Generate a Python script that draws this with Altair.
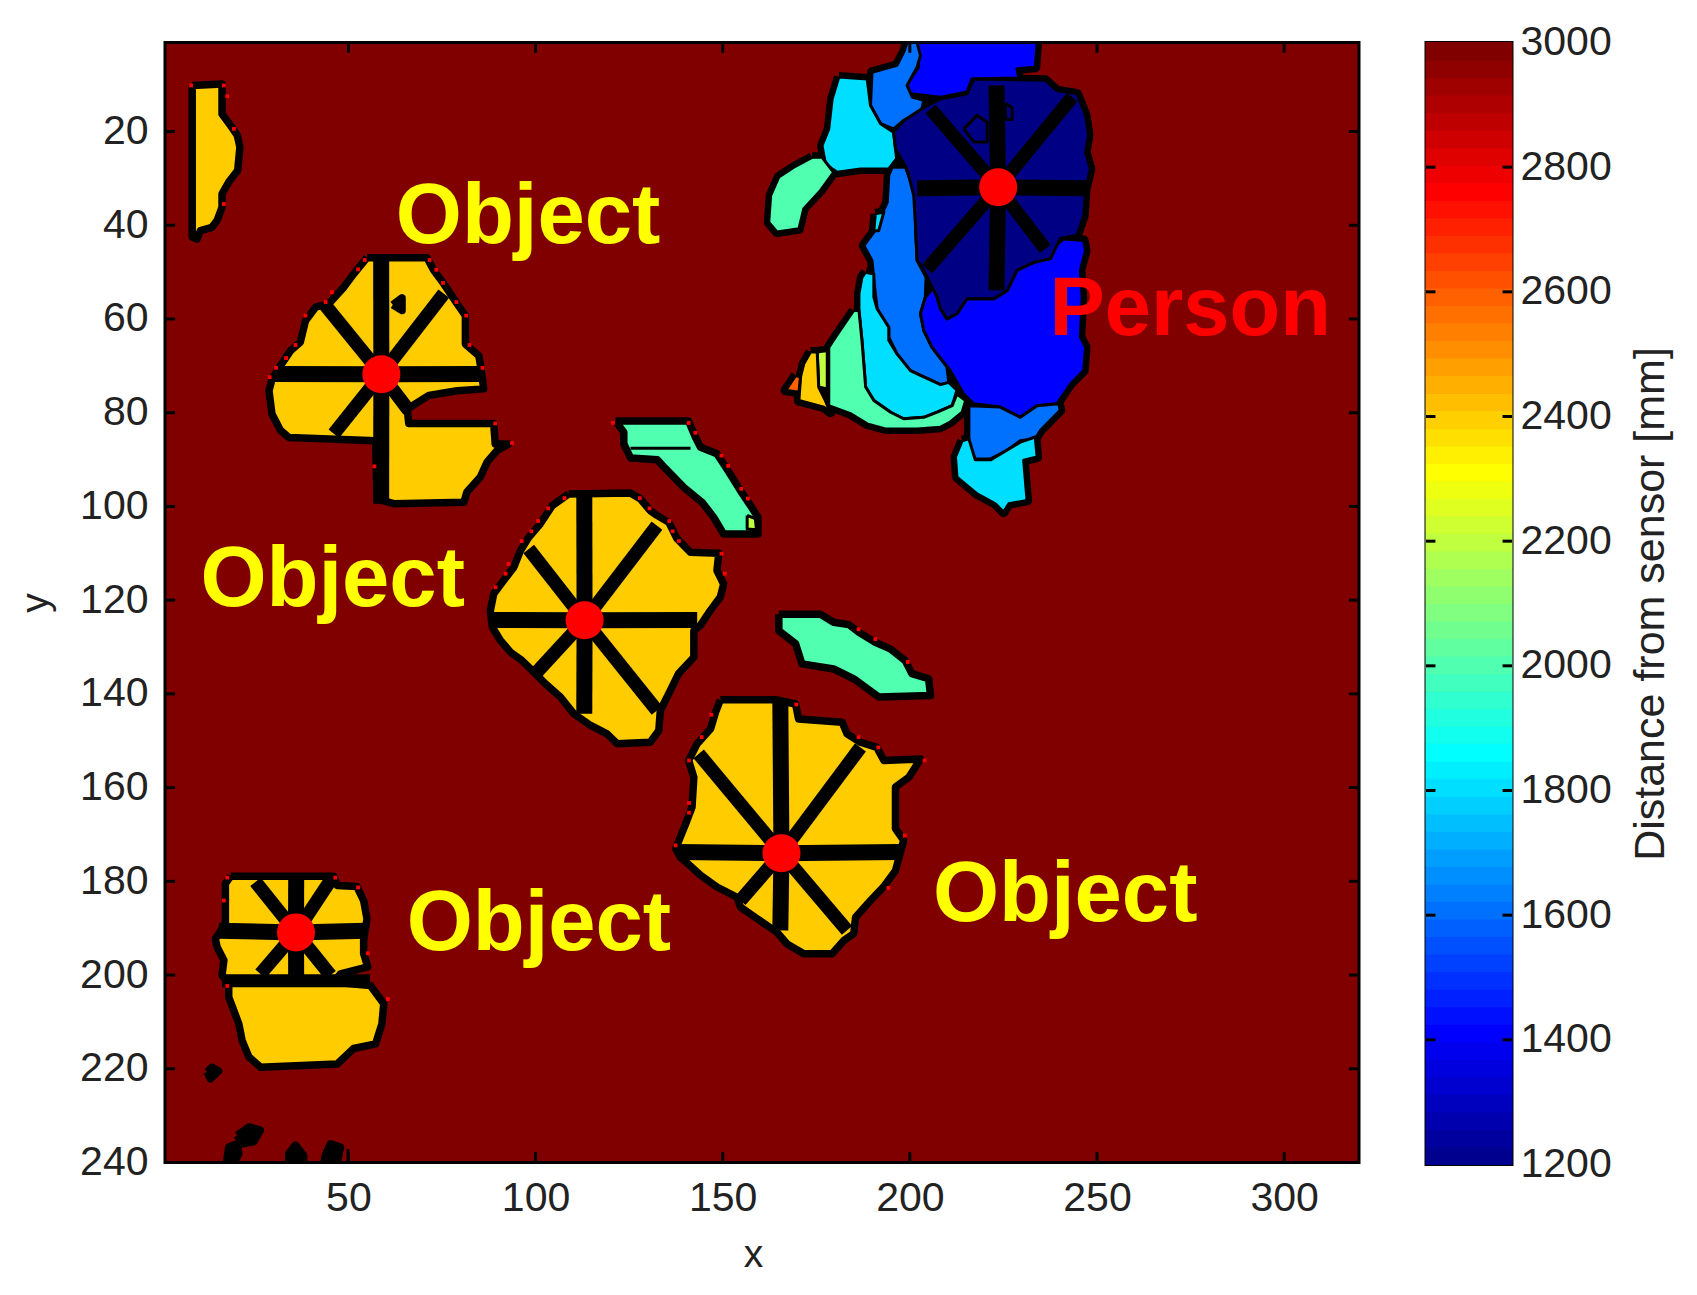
import altair as alt
import pandas as pd

FONT = "Liberation Sans"
BACK = "#800000"
ORANGE = "#ffcc00"
AQUA = "#50ffaf"
CYAN = "#00dfff"
AZURE = "#0070ff"
BLUE = "#0000ff"
NAVY = "#000085"
LIME = "#bfff40"
FLAME = "#ff6000"

X_READ = 3.727 / 3.743
Y_READ = 4.668 / 4.686

sliver = [(8.3,10.2),(16.3,9.9),(16.3,12.7),(16.3,16.3),(18.6,18.8),(20.4,20.9),(21.1,23.4),(20.5,28.4),(18.1,30.9),(16.3,33.4),(16.3,36.3),(15,39.1),(13.6,40.6),(10.5,41.3),(9.6,43.1),(8.3,42.7)]
obj_b = [(55.2,47.1),(71.3,47.1),(73.1,49.8),(75.8,52.7),(79.4,57),(81.6,59.5),(81.6,65.6),(85.2,68.1),(85.8,70.9),(86.5,75.2),(79.4,75.6),(71.8,76.6),(66,79.5),(66.4,82.6),(89.2,82.6),(89.6,87),(93.2,87),(90.1,88.4),(87.4,90.9),(85.6,94.1),(82,97.3),(81.2,99.5),(62.4,99.8),(57.9,98.8),(57.5,86.3),(34.2,85.6),(32,84.1),(29.7,80.6),(28.9,75.6),(29.7,73.1),(32,70.2),(34.7,67),(37.3,65.2),(38.7,60.6),(41.4,57.7),(44.9,57),(49,53.4),(51.6,50.6)]
obj_c = [(109.3,97.7),(125.9,97.5),(128.6,98.8),(131.2,101.3),(133,102.3),(136.2,103.8),(138.4,107.3),(142,110.2),(149.6,110.4),(149.1,114.1),(150.9,117),(150,119.8),(147.3,122.7),(144.6,125.9),(142.9,127),(142.9,132.7),(138.8,136.2),(136.6,139.8),(133.9,144.1),(133.5,148.4),(131.2,150.9),(122.3,151.2),(119.6,149.1),(115.2,147.3),(110.7,144.8),(107.1,141.2),(103.1,138.4),(100,135.9),(96.8,133.4),(93.7,131.6),(91,129.1),(88.8,126.2),(88.3,122.7),(89.2,119.1),(91.9,116.2),(94.6,113.4),(96.4,109.8),(98.6,107),(101.7,104.1),(104.9,100.2)]
obj_d = [(150,141.8),(164.8,141.8),(170.2,142.7),(171,145.9),(182.7,146.6),(184,149.1),(187.6,150.9),(192,152),(193.9,154.8),(203.7,154.5),(200.6,158.4),(197,160.5),(197,169.4),(199.2,171.9),(197,178.4),(193.8,181.9),(190.3,184.8),(186.3,188.4),(185.8,191.9),(183.1,193.4),(180,196.2),(172.4,196.2),(167.9,194.1),(165.2,191.6),(159.9,188.7),(155.4,186.2),(154.5,184.1),(149.1,181.9),(144.7,179.4),(139.3,175.5),(138,173.7),(140.7,168.4),(142.4,164.8),(142.9,158.4),(141.5,154.8),(143.8,151.2),(147.4,148),(148.7,144.5)]
obj_e = [(18.6,179.6),(46.3,179.6),(47.2,181.6),(52.5,181.8),(54.3,184.8),(55.2,188.7),(54.3,193.3),(54.3,196.2),(55.4,199),(48.1,200.5),(46.3,202.3),(56.1,203),(59.7,206.9),(59.2,211.2),(57.5,215.5),(51.6,216.5),(47.2,219.8),(26.6,220.5),(23.5,218.3),(21.7,214.8),(20.8,211.2),(18.1,205.5),(18.1,202.6),(16.3,200.8),(16.8,197.6),(15,194.8),(14.5,193),(17.2,189.8),(17.2,181.2)]
strip_a = [(121.9,82.1),(141.5,82.1),(143.3,85.5),(144.7,87.7),(149.1,89.1),(152.3,93),(155.4,97),(158.1,100.2),(160.1,102.7),(160.1,106.3),(150.9,106.3),(148.2,102.7),(145.1,99.5),(140.2,96.3),(135.3,92.3),(133.1,90.4),(125.9,90),(124.1,87),(124.1,84.5)]
strip_a_tip = [(157.2,102.3),(159.4,103),(159.7,105.4),(157.2,105.2)]
strip_b = [(165.7,123.5),(176.9,123.5),(180.4,125.2),(184.5,125.7),(187.1,127.3),(191.6,129.5),(195.6,130.9),(199.6,133.4),(201.4,136.2),(205.9,137.3),(206.4,140.9),(192.5,141.2),(185.8,137.3),(180.4,135.2),(171.9,134.1),(170.2,129.8),(165.7,127)]

speck_1 = [(12.3,221.5),(13.6,220.5),(15.4,221.3),(13.2,223)]
speck_2 = [(20.4,235.1),(23.5,233.3),(26.6,234),(24.8,236.5),(21.7,236.9)]
speck_3 = [(17.5,241),(18.1,237.6),(20.4,236.9),(20.8,239),(19.6,241)]
speck_4 = [(34.2,241),(34.2,239),(36,237.2),(38.2,239.4),(38.2,241)]
speck_5 = [(43.6,241),(44,239.4),(45.4,236.9),(48.1,237.6),(47.2,241)]
notch_b = [(62.1,57.2),(64.6,55.7),(64.6,58.4)]

p_top = [(202.8,1),(235,1),(234.5,6.3),(229.6,6.6),(230.1,8.6),(217.5,8.8),(216.2,11.6),(209.1,12.7),(201,12),(200.1,9.9),(203.2,6.3)]
p_azure_up = [(200.1,1),(202.8,1),(203.7,3.8),(202.8,6.3),(200.1,10.2),(201.5,12.7),(204.6,13.4),(203.7,16.6),(199.2,17.7),(196.5,19.5),(193,18.4),(190.3,14.5),(190.7,7.4),(197.4,5.9),(199.2,3.1)]
p_cyan_up = [(181.8,8.4),(189.4,8.8),(190.3,14.5),(193,18.4),(196.5,20.2),(197.3,25.9),(195.2,28.1),(187.6,28.1),(181.3,28.8),(178.2,27),(177.3,23.1),(179.1,19.5),(180,13.1)]
p_arm = [(174.6,25.6),(177.3,25.6),(180.4,28.8),(176.9,32.7),(172.4,36.6),(171.1,40.9),(165.2,41.6),(163,39.5),(163.5,33.8),(165.7,29.8),(169.7,27.7)]
p_head = [(204.6,14.9),(209.1,13.1),(216.2,12),(218,8.8),(237.2,9.1),(240.3,11.3),(245.7,12),(248,16.6),(248.8,20.9),(248,24.5),(249.3,28.1),(248,32.3),(247.5,38.1),(245.7,42.3),(241.2,43),(238.6,47.3),(234.1,48.1),(229.6,49.8),(227,54.1),(223.4,55.9),(216.2,55.9),(213.5,59.1),(210.8,60.2),(209.1,58.1),(208.2,55.6),(206.4,52.7),(204.6,49.8),(202.8,47.7),(202.4,40.9),(201.9,33.8),(200.1,28.1),(197,23.8),(196.5,20.2),(199.2,17.7)]
p_azure_mid = [(196.1,27.7),(199.7,27.7),(202.4,33.8),(202.4,41.6),(202.8,47.7),(205.2,51.3),(205,55.6),(203.7,59.1),(204.6,62.7),(206.8,66.3),(210.8,70.5),(211.3,73.8),(209.1,74.3),(203.7,72.3),(201,71.3),(197.4,67.7),(195.2,64.1),(195.2,62),(192.1,58.1),(191.2,52),(190.7,47.7),(188.5,44.5),(191.2,41.6),(194.8,35.2),(195.2,29.5)]
p_body = [(207.3,53.4),(208.2,55.6),(209.1,58.1),(210.8,60.2),(213.5,59.1),(216.2,55.9),(223.4,55.9),(227,54.1),(229.6,49.8),(234.1,48.1),(238.6,47.3),(239.9,44.5),(242.1,43.1),(247.5,43.4),(248,45.6),(246.6,49.8),(247.1,55.6),(246.6,64.1),(248,66.3),(247.5,71.3),(244,74.1),(240.3,78.4),(235,78.8),(230.5,81.3),(225.1,79.1),(218,78.4),(215.3,76.3),(211.7,71.3),(206.8,66.3),(204.6,62.7),(203.7,59.1),(205,55.6)]
p_azure_low = [(216.7,78.8),(225.1,79.1),(230.5,81.3),(235,78.8),(240.8,78.4),(241.2,79.8),(235.9,84.1),(234.5,85.9),(230.5,86.3),(227,88.4),(222.5,90.2),(218.4,90.2),(216.7,87)]
p_cyan_low = [(214.9,86.3),(216.7,85.9),(218.4,90.4),(222.5,90.4),(230.5,86.6),(234.5,85.5),(235,89.8),(231.4,90.5),(232.3,99.1),(227.4,99.8),(226,101.6),(223.8,99.8),(218.9,97.7),(213.5,94.1),(213.1,89.8)]
p_cyan_mid = [(189,50.2),(191.2,50.6),(191.2,55.6),(192.1,58.1),(195.2,62),(195.2,64.8),(197.4,67.7),(201,71.3),(203.7,72.3),(209.1,74.3),(211.3,73.8),(213.5,75.5),(212.2,78.8),(208.2,80.2),(204.6,81.3),(199.2,81.6),(195.7,80.2),(191.2,77.7),(189,74.8),(188,64.8),(187.2,58.4),(187.2,54.8),(188,51.3)]
p_aqua = [(185.8,58.4),(187.2,58.4),(188,64.8),(189,74.8),(191.2,77.7),(195.7,80.2),(199.2,81.6),(204.6,81.3),(208.2,80.2),(212.2,78.8),(213.5,76.3),(215.8,77.7),(214.9,80.2),(211.7,82.3),(209.1,83.4),(202.8,83.8),(194.3,83.8),(189.4,82.7),(184.9,80.5),(179.1,78.8),(179.1,66.3),(180.9,64.1),(184,60.5)]
p_lime = [(176,67.3),(178.7,67),(178.7,75.2),(176.4,74.8)]
p_orange = [(174.2,67.3),(176,67.3),(176.4,74.8),(178.2,77.7),(179.5,80.2),(177.8,79.1),(171.1,77.7),(171.5,72.7),(172.4,69.8)]
p_flame = [(170.2,72.3),(171.5,72.7),(171.1,75.9),(167.5,75.5),(168.4,74.5)]
p_sliver = [(191.6,37.7),(193.9,37.3),(192.5,41.3),(191.2,41.3)]
p_loop_a = [(215.3,19.5),(218.9,16.6),(221.6,18.1),(221.6,22.3),(218,22.3)]
p_loop_b = [(226.5,14),(228.3,15),(228.3,17.5),(226.5,17.5)]

object_shapes = [(sliver,ORANGE),(obj_b,ORANGE),(obj_c,ORANGE),(obj_d,ORANGE),(obj_e,ORANGE),(strip_a,AQUA),(strip_b,AQUA),
                 (speck_1,"black"),(speck_2,"black"),(speck_3,"black"),(speck_4,"black"),(speck_5,"black"),(notch_b,"black")]
tip_shapes = [(strip_a_tip,LIME)]
person_shapes = [(p_top,BLUE),(p_azure_up,AZURE),(p_cyan_up,CYAN),(p_arm,AQUA),(p_azure_mid,AZURE),(p_body,BLUE),(p_head,NAVY),
                 (p_azure_low,AZURE),(p_cyan_low,CYAN),(p_cyan_mid,CYAN),(p_aqua,AQUA),(p_lime,LIME),(p_orange,ORANGE),(p_flame,FLAME),(p_sliver,CYAN),
                 (p_loop_a,NAVY),(p_loop_b,NAVY)]

speckle_x = [8,16.8,17.7,19.5,16.8,54.6,72,73.8,75.6,79.2,81.8,82.7,86.2,89.6,94.1,57.2,52.8,45.8,44.1,38.7,36,33.5,30.8,29.1,
             108.2,128.4,131,136.3,137.2,138.9,150.3,151.2,103.8,101.1,99.3,96.7,93.2,92.4,89.7,
             170.4,187.1,192.4,204.8,199.5,195.1,147.6,145,141.6,141.6,141.6,138,
             17.7,46.7,52.8,16.8,55.4,17.7,60.8,
             121.2,141.5,143.3,150.3,152.1,155.6,157.4,187.1,191.6,200.3]
speckle_y = [10.2,10.2,12.5,19.5,35.6,47.6,47.6,49.7,52.5,56.6,59.5,65.8,70.7,82.6,86.8,91.8,49.6,54.5,56.6,59.5,65.8,68.6,70.7,72.7,
             98.6,98.6,100.8,103.5,105.7,107.8,110.5,114.8,100.8,103.5,105.7,107.8,112.7,114.8,117.7,
             142.8,149.8,152,154.8,170.9,182.1,145,149.8,154.8,163.9,166,173,
             179.9,179.9,182,184.8,196.1,203.1,205.9,
             82.5,82.5,84.6,89.5,91.7,96.6,98.7,126.7,128.8,133.7]

center_x = [58.8, 113.1, 165.7, 36.0, 223.6]
center_y = [71.8, 124.3, 174, 190.9, 31.9]
spoke_ends = [
    [(59,47.7),(59,99.8),(30.2,72),(86,72),(44,57.3),(75.8,54.8),(46.3,84.8),(66.4,79.8)],
    [(113.5,97.7),(113.5,144.8),(88.3,124.7),(143.8,124.7),(98.6,109.5),(133,104.5),(100.4,136.2),(133,144.1)],
    [(166.1,142.3),(166.1,191.2),(138.4,174.4),(198.3,174.4),(144.2,153.4),(187.6,152),(155.4,184.8),(184,191.2)],
    [(36.2,180),(36.2,202.3),(15.4,191.3),(54.8,191.3),(25.3,180.8),(45.8,180),(26.6,200.5),(45.4,200.8)],
    [(224.1,10.2),(224.1,54.1),(202.8,32.2),(248.8,32.2),(206.4,15.2),(244.4,12.7),(205.5,49.5),(237.2,45.2)],
]
label_text = ["Object", "Object", "Object", "Object", "Person"]
label_x = [98, 45.8, 100.9, 241.5, 274.9]
label_y = [38.2, 115.8, 189.2, 182.9, 58]
label_size = [85, 85, 85, 85, 83]
label_color = ["#ffff00", "#ffff00", "#ffff00", "#ffff00", "#ff0000"]
x_ticks = [50, 100, 150, 200, 250, 300]
y_ticks = [20, 40, 60, 80, 100, 120, 140, 160, 180, 200, 220, 240]
bar_ticks = [1200, 1400, 1600, 1800, 2000, 2200, 2400, 2600, 2800, 3000]
jet = ["#00008f","#00009f","#0000af","#0000bf","#0000cf","#0000df","#0000ef","#0000ff",
       "#0010ff","#0020ff","#0030ff","#0040ff","#0050ff","#0060ff","#0070ff","#0080ff",
       "#008fff","#009fff","#00afff","#00bfff","#00cfff","#00dfff","#00efff","#00ffff",
       "#10ffef","#20ffdf","#30ffcf","#40ffbf","#50ffaf","#60ff9f","#70ff8f","#80ff80",
       "#8fff70","#9fff60","#afff50","#bfff40","#cfff30","#dfff20","#efff10","#ffff00",
       "#ffef00","#ffdf00","#ffcf00","#ffbf00","#ffaf00","#ff9f00","#ff8f00","#ff8000",
       "#ff7000","#ff6000","#ff5000","#ff4000","#ff3000","#ff2000","#ff1000","#ff0000",
       "#ef0000","#df0000","#cf0000","#bf0000","#af0000","#9f0000","#8f0000","#800000"]


def rx(v):
    return 1 + (v - 1) * X_READ


def ry(v):
    return 1 + (v - 1) * Y_READ


def table(shapes):
    rows = []
    for k, (pts, col) in enumerate(shapes):
        for j, (px, py) in enumerate(pts + pts[:1]):
            rows.append({"id": k, "o": j, "x": rx(px), "y": ry(py), "fill": col})
    return pd.DataFrame(rows)


X = alt.Scale(domain=[1, 320], nice=False, zero=False)
Y = alt.Scale(domain=[1, 240], reverse=True, nice=False, zero=False)
xq = alt.X("x:Q", scale=X, title="x", axis=alt.Axis(values=x_ticks, tickSize=0, domain=False, grid=False,
           labelFont=FONT, labelFontSize=41, labelColor="#222", labelPadding=16, titleFont=FONT, titleFontSize=39,
           titleFontWeight="normal", titleColor="#222", titlePadding=17, titleX=588))
yq = alt.Y("y:Q", scale=Y, title="y", axis=alt.Axis(values=y_ticks, tickSize=0, domain=False, grid=False,
           labelFont=FONT, labelFontSize=41, labelColor="#222", labelPadding=17, titleFont=FONT, titleFontSize=39,
           titleFontWeight="normal", titleColor="#222", titlePadding=24, labelOverlap=False))


def polys(df, width):
    return alt.Chart(df).mark_line(stroke="black", strokeWidth=width, strokeJoin="round", clip=True).encode(
        x=xq, y=yq, order="o:Q", detail="id:N", fill=alt.Fill("fill:N", scale=None))


obj_layer = polys(table(object_shapes), 7.5)
tip_layer = polys(table(tip_shapes), 3)
person_under = polys(table(person_shapes[:15]), 10)
person_over = polys(table(person_shapes), 3)

spokes = []
for cx, cy, ends in zip(center_x, center_y, spoke_ends):
    for k, (ex, ey) in enumerate(ends):
        spokes.append({"x": cx, "y": cy, "x2": rx(ex), "y2": ry(ey), "w": 16 if k < 4 else 13.5})
spokes.append({"x": rx(16.3), "y": ry(202), "x2": rx(56), "y2": ry(202), "w": 13})
spokes.append({"x": rx(125.9), "y": ry(87.9), "x2": rx(142), "y2": ry(87.9), "w": 3})
spokes.append({"x": rx(50.1), "y": ry(238), "x2": rx(50.1), "y2": 240, "w": 3})
spoke_layer = alt.Chart(pd.DataFrame(spokes)).mark_rule(color="black").encode(
    x=xq, y=yq, x2="x2:Q", y2="y2:Q", size=alt.Size("w:Q", scale=None))

speckle = alt.Chart(pd.DataFrame({"x": [rx(v) for v in speckle_x], "y": [ry(v) for v in speckle_y]})).mark_square(
    color="#ff0000", opacity=1, size=14).encode(x=xq, y=yq)
dots = alt.Chart(pd.DataFrame({"x": center_x, "y": center_y})).mark_circle(color="#ff0000", opacity=1, size=1444).encode(x=xq, y=yq)
labels = alt.Chart(pd.DataFrame({"x": label_x, "y": label_y, "t": label_text, "c": label_color, "s": label_size})).mark_text(
    font=FONT, fontWeight="bold", baseline="middle", align="center").encode(
    x=xq, y=yq, text="t:N", color=alt.Color("c:N", scale=None), size=alt.Size("s:Q", scale=None))

tk = []
for v in x_ticks:
    tk.append({"x": v, "y": 1, "x2": v, "y2": 3.2})
    tk.append({"x": v, "y": 240, "x2": v, "y2": 237.8})
for v in y_ticks:
    tk.append({"x": 1, "y": v, "x2": 3.7, "y2": v})
    tk.append({"x": 320, "y": v, "x2": 317.3, "y2": v})
tick_layer = alt.Chart(pd.DataFrame(tk)).mark_rule(color="black", size=3).encode(x=xq, y=yq, x2="x2:Q", y2="y2:Q")

main = alt.layer(obj_layer, tip_layer, person_under, person_over, spoke_layer, speckle, dots, labels, tick_layer).properties(width=1194, height=1120)

bar_df = pd.DataFrame({"lo": [1200 + i * 1800 / 64 for i in range(64)], "hi": [1200 + (i + 1) * 1800 / 64 for i in range(64)], "c": jet, "a": [0] * 64, "b": [1] * 64})
BX = alt.Scale(domain=[0, 1], nice=False, zero=False)
BY = alt.Scale(domain=[1200, 3000], nice=False, zero=False)
bxq = alt.X("a:Q", scale=BX, axis=None)
byq = alt.Y("lo:Q", scale=BY, title="Distance from sensor [mm]", axis=alt.Axis(orient="right", values=bar_ticks, tickSize=0, format="d",
            domain=False, grid=False, labelFont=FONT, labelFontSize=41, labelColor="#222", labelPadding=8, labelOverlap=False,
            titleFont=FONT, titleFontSize=43, titleFontWeight="normal", titleColor="#222", titleAngle=270, titleBaseline="top", titlePadding=18))
bar = alt.Chart(bar_df).mark_rect(strokeWidth=1).encode(x=bxq, x2="b:Q", y=byq, y2="hi:Q", color=alt.Color("c:N", scale=None), stroke=alt.Stroke("c:N", scale=None))
bt = []
for v in bar_ticks[1:-1]:
    bt.append({"a": 0, "b": 0.11, "lo": v})
    bt.append({"a": 0.89, "b": 1, "lo": v})
bar_ticks_layer = alt.Chart(pd.DataFrame(bt)).mark_rule(color="black", size=3).encode(x=bxq, x2="b:Q", y=byq)
colorbar = alt.layer(bar, bar_ticks_layer).properties(width=86, height=1122)

chart = alt.hconcat(main, colorbar, spacing=61).properties(
    padding={"left": 7, "top": 11.5, "right": 5, "bottom": 5}, background="white"
).configure_view(stroke="black", strokeWidth=3, fill=BACK)
chart.save("out.html", embed_options={"renderer": "svg", "actions": False})
